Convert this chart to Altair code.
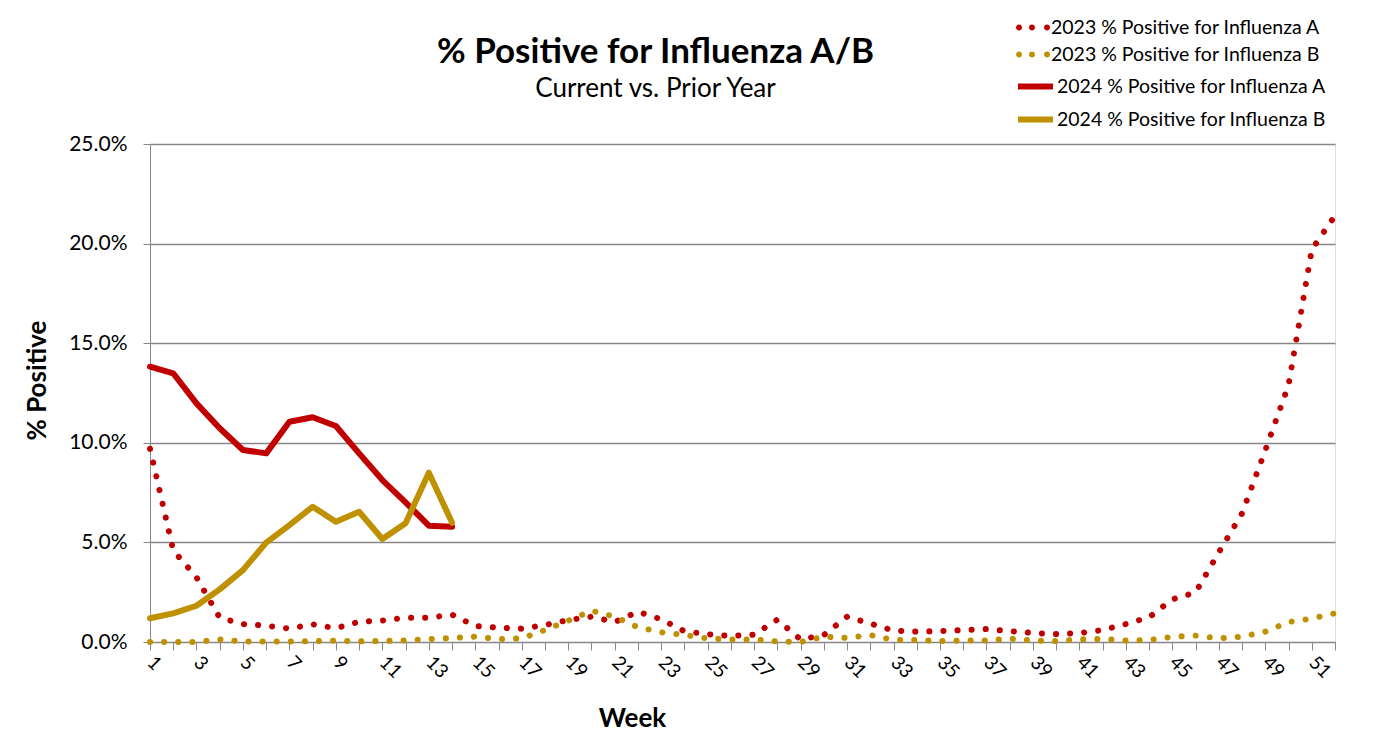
import altair as alt
import pandas as pd

weeks = list(range(1, 53))

a2023 = [9.7, 4.6, 3.25, 1.22, 0.9, 0.82, 0.67, 0.89, 0.69, 1.02, 1.07, 1.22, 1.22, 1.37,
         0.8, 0.72, 0.67, 0.85, 1.1, 1.27, 1.0, 1.52, 1.14, 0.54, 0.39, 0.3, 0.37, 1.12,
         0.13, 0.35, 1.27, 0.93, 0.57, 0.52, 0.55, 0.6, 0.65, 0.55, 0.45, 0.4, 0.45, 0.6,
         0.9, 1.24, 2.14, 2.49, 4.5, 6.46, 9.62, 12.9, 19.7, 21.4]
b2023 = [0.0, 0.0, 0.0, 0.13, 0.03, 0.03, 0.03, 0.05, 0.07, 0.03, 0.05, 0.08, 0.15, 0.2,
         0.27, 0.15, 0.18, 0.6, 1.07, 1.57, 1.27, 0.74, 0.49, 0.35, 0.18, 0.13, 0.13, 0.03,
         0.0, 0.27, 0.2, 0.35, 0.1, 0.1, 0.05, 0.07, 0.07, 0.17, 0.07, 0.05, 0.13, 0.15,
         0.07, 0.1, 0.26, 0.32, 0.18, 0.27, 0.52, 1.0, 1.18, 1.44]
a2024 = [13.82, 13.49, 11.98, 10.73, 9.64, 9.47, 11.06, 11.28, 10.84, 9.47, 8.13, 7.01, 5.84, 5.79]
b2024 = [1.19, 1.44, 1.82, 2.64, 3.61, 4.99, 5.87, 6.79, 6.04, 6.54, 5.17, 5.96, 8.5, 5.99]

names_2023 = ["2023 % Positive for Influenza A", "2023 % Positive for Influenza B"]
names_2024 = ["2024 % Positive for Influenza A", "2024 % Positive for Influenza B"]
colors = ["#C00000", "#BF9000"]


def frame(names, series):
    rows = []
    for name, vals in zip(names, series):
        for w, v in zip(weeks, vals):
            rows.append({"week": w, "value": v, "series": name})
    return pd.DataFrame(rows)


df23 = frame(names_2023, [a2023, b2023])
df24 = frame(names_2024, [a2024, b2024])

FONT = "Lato"
GRID = "#878787"

# legend symbol for the dotted series: three filled dots (unit coords, [-1, 1] = symbol width)
R = 0.17
def dot(cx):
    return (f"M{cx - R},0 A{R},{R} 0 1,0 {cx + R},0 A{R},{R} 0 1,0 {cx - R},0 Z ")
DOTS = dot(-0.77) + dot(-0.03) + dot(0.83)

x_enc = alt.X("week:Q",
              scale=alt.Scale(domain=[1, 52], nice=False, zero=False),
              axis=alt.Axis(values=weeks, labelExpr="datum.value % 2 == 1 ? datum.label : ''",
                            labelAngle=45, labelAlign="left", labelBaseline="middle",
                            labelFontSize=19, labelPadding=9, labelFont=FONT, labelColor="black",
                            tickSize=8, tickColor=GRID, domainColor=GRID, grid=False,
                            title="Week", titleFont=FONT, titleFontSize=26, titleFontWeight="bold",
                            titleColor="black", titleX=482, titleY=76, titleAlign="center",
                            titleBaseline="middle", labelOverlap=False))
y_enc = alt.Y("value:Q",
              scale=alt.Scale(domain=[0, 25], nice=False),
              axis=alt.Axis(values=[0, 5, 10, 15, 20, 25],
                            labelExpr="format(datum.value, '.1f') + '%'",
                            labelFontSize=21, labelFont=FONT, labelColor="black", labelPadding=16,
                            tickSize=7, tickColor=GRID, domainColor=GRID,
                            gridColor=GRID, gridWidth=1.3,
                            title="% Positive", titleFont=FONT, titleFontSize=26,
                            titleFontWeight="bold", titleColor="black",
                            titleX=-113, titleY=236, titleAlign="center", titleBaseline="middle"))

legend_common = dict(title=None, orient="none", labelFont=FONT, labelFontSize=19.5,
                     labelColor="black", symbolSize=1225, labelLimit=500,
                     labelOffset=1, rowPadding=0, padding=0, legendX=865)

dotted = alt.Chart(df23).mark_line(strokeWidth=6, strokeCap="round", strokeJoin="round",
                                   strokeDash=[0.1, 14]).encode(
    x=x_enc, y=y_enc,
    color=alt.Color("series:N", scale=alt.Scale(domain=names_2023, range=colors), legend=None),
)

# legend-only layer (no rows pass the filter) that carries the dotted-series legend
dotted_key = alt.Chart(df23).transform_filter("datum.week > 100").mark_point(filled=True).encode(
    x=x_enc, y=y_enc,
    color=alt.Color("series:N", scale=alt.Scale(domain=names_2023, range=colors),
                    legend=alt.Legend(symbolType=DOTS, legendY=-134, symbolStrokeWidth=0,
                                      symbolOpacity=1, **legend_common)),
)

solid = alt.Chart(df24).mark_line(strokeWidth=6, strokeCap="round", strokeJoin="round").encode(
    x=x_enc, y=y_enc,
    color=alt.Color("series:N", scale=alt.Scale(domain=names_2024, range=colors),
                    legend=alt.Legend(symbolType="stroke", legendY=-78, symbolStrokeWidth=6,
                                      **legend_common)),
)

chart = alt.layer(dotted, dotted_key, solid).resolve_scale(color="independent").resolve_legend(
    color="independent"
).properties(
    width=1185,
    height=498,
    title=alt.TitleParams(text="% Positive for Influenza A/B", subtitle="Current vs. Prior Year",
                          anchor="middle", frame="group", dx=-87, dy=132, offset=40,
                          font=FONT, fontSize=35, fontWeight="bold", color="black",
                          subtitleFont=FONT, subtitleFontSize=26, subtitleColor="black",
                          subtitlePadding=6),
    autosize=alt.AutoSizeParams(type="none"),
    padding={"left": 142, "top": 136, "right": 30, "bottom": 90},
).configure_view(stroke=GRID, strokeWidth=1.3).configure(background="white")

chart.save("out.html", embed_options={"renderer": "svg", "actions": False})
